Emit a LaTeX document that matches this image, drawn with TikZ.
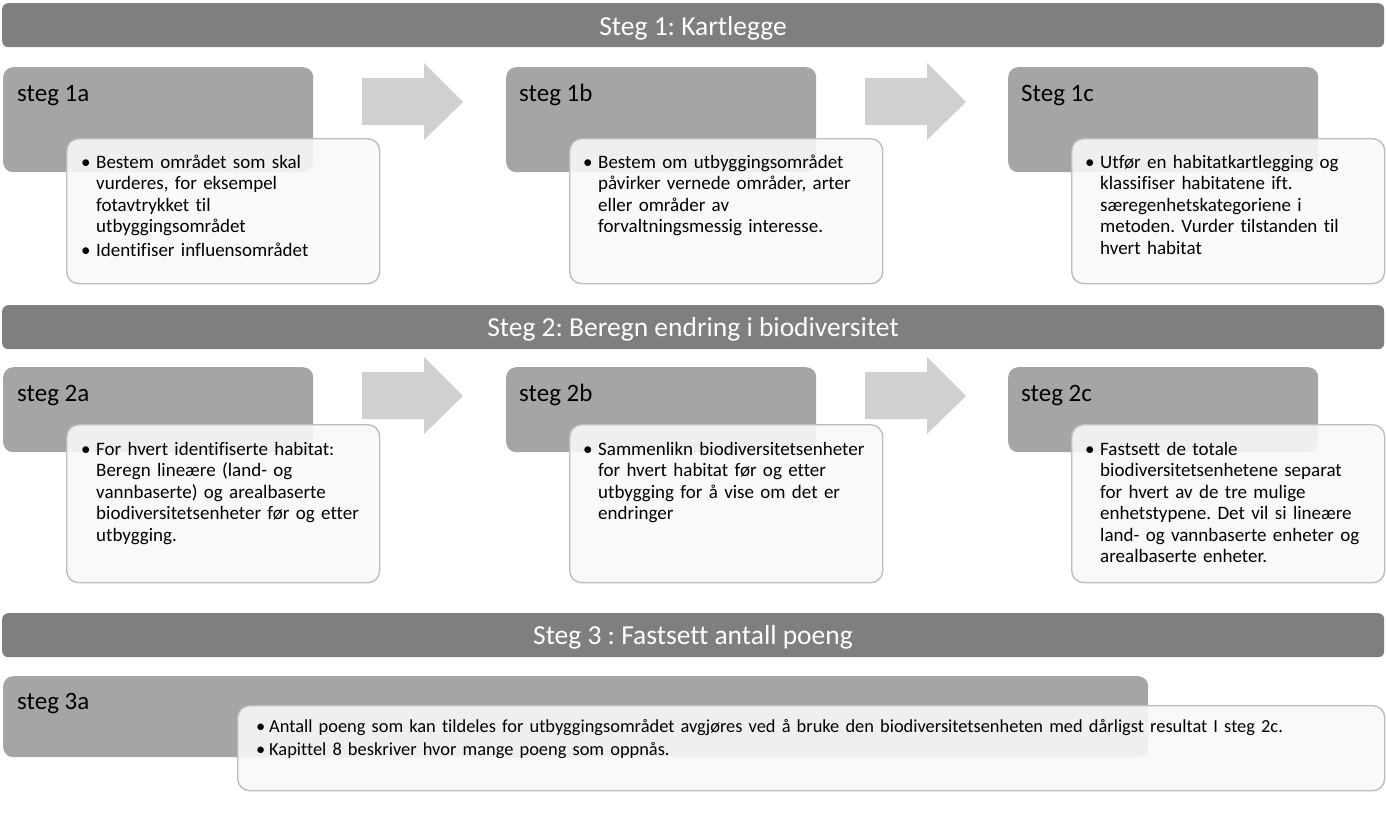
\documentclass[tikz,border=0pt]{standalone}
\usepackage{fontspec}
\setmainfont{Carlito}[Ligatures={NoCommon,NoContextual}]
\definecolor{hdrgray}{HTML}{7F7F7F}
\definecolor{boxgray}{HTML}{A5A5A5}
\definecolor{arrgray}{HTML}{D0D0D0}
\definecolor{bordergray}{HTML}{BDBDBD}
\definecolor{wfill}{HTML}{F8F8F8}
\newcommand{\bl}{\makebox[15pt][l]{\textbullet}}
\newcommand{\ind}{\hspace*{15pt}}
\newcommand{\blsm}{\makebox[13pt][l]{\textbullet}}
\frenchspacing
\begin{document}
\begin{tikzpicture}[x=1pt,y=-1pt,
  hdr/.style={fill=hdrgray, draw=none, rounded corners=6pt, anchor=north west, inner sep=0pt},
  hdrtext/.style={text=white, font=\fontsize{27.5}{31}\selectfont, anchor=base, inner sep=0pt},
  gbox/.style={fill=boxgray, draw=none, rounded corners=10pt, anchor=north west, inner sep=0pt},
  wbox/.style={fill=wfill, fill opacity=0.9, draw=bordergray, line width=1.4pt, rounded corners=12pt, anchor=north west, inner sep=0pt},
  lbl/.style={font=\fontsize{25}{29}\selectfont, anchor=base west, inner sep=0pt},
  body/.style={font=\fontsize{19}{21.5}\selectfont, anchor=base west, inner sep=0pt, align=left, text width=340pt},
  bodysm/.style={font=\fontsize{18.4}{23}\selectfont, anchor=base west, inner sep=0pt, align=left, text width=1120pt},
  barrow/.style={fill=arrgray, draw=none}
]
\useasboundingbox (0,0) rectangle (1386,819);

% Headers
\node[hdr, minimum width=1382pt, minimum height=44pt] (h1) at (2,3) {};
\node[hdrtext] (h1t) at (693,35) {Steg 1: Kartlegge};
\node[hdr, minimum width=1382pt, minimum height=44pt] (h2) at (2,305) {};
\node[hdrtext] (h2t) at (693,336) {Steg 2: Beregn endring i biodiversitet};
\node[hdr, minimum width=1382pt, minimum height=44pt] (h3) at (2,613) {};
\node[hdrtext] (h3t) at (693,644) {Steg 3 : Fastsett antall poeng};

% Arrows
\foreach \ax/\ay in {362/0, 865/0, 362/294, 865/294} {
  \fill[barrow] (\ax,78+\ay) -- (\ax+62,78+\ay) -- (\ax+62,63+\ay) -- (\ax+101,102+\ay)
     -- (\ax+62,140+\ay) -- (\ax+62,125+\ay) -- (\ax,125+\ay) -- cycle;
}

% Row 1
\node[gbox, minimum width=310pt, minimum height=105pt] (g1a) at (3,67) {};
\node[gbox, minimum width=310pt, minimum height=105pt] (g1b) at (506,67) {};
\node[gbox, minimum width=310pt, minimum height=105pt] (g1c) at (1008,67) {};
\node[lbl] (l1a) at (17,101) {steg 1a};
\node[lbl] (l1b) at (519,101) {steg 1b};
\node[lbl] (l1c) at (1021,101) {Steg 1c};
\node[wbox, minimum width=313pt, minimum height=145pt] (w1a) at (66,138) {};
\node[wbox, minimum width=313pt, minimum height=145pt] (w1b) at (569,138) {};
\node[wbox, minimum width=313pt, minimum height=145pt] (w1c) at (1071,138) {};
\node[body] (b1a) at (81,168) {\bl Bestem området som skal\\\ind vurderes, for eksempel\\\ind fotavtrykket til\\\ind utbyggingsområdet\\[2.5pt]\bl Identifiser influensområdet};
\node[body] (b1b) at (583,168) {\bl Bestem om utbyggingsområdet\\\ind påvirker vernede områder, arter\\\ind eller områder av\\\ind forvaltningsmessig interesse.};
\node[body] (b1c) at (1085,168) {\bl Utfør en habitatkartlegging og\\\ind klassifiser habitatene ift.\\\ind særegenhetskategoriene i\\\ind metoden. Vurder tilstanden til\\\ind hvert habitat};

% Row 2
\node[gbox, minimum width=310pt, minimum height=85pt] (g2a) at (3,367) {};
\node[gbox, minimum width=310pt, minimum height=85pt] (g2b) at (506,367) {};
\node[gbox, minimum width=310pt, minimum height=85pt] (g2c) at (1008,367) {};
\node[lbl] (l2a) at (17,401) {steg 2a};
\node[lbl] (l2b) at (519,401) {steg 2b};
\node[lbl] (l2c) at (1021,401) {steg 2c};
\node[wbox, minimum width=313pt, minimum height=158pt] (w2a) at (66,424) {};
\node[wbox, minimum width=313pt, minimum height=158pt] (w2b) at (569,424) {};
\node[wbox, minimum width=313pt, minimum height=158pt] (w2c) at (1071,424) {};
\node[body] (b2a) at (81,455) {\bl For hvert identifiserte habitat:\\\ind Beregn lineære (land- og\\\ind vannbaserte) og arealbaserte\\\ind biodiversitetsenheter før og etter\\\ind utbygging.};
\node[body] (b2b) at (583,455) {\bl Sammenlikn biodiversitetsenheter\\\ind for hvert habitat før og etter\\\ind utbygging for å vise om det er\\\ind endringer};
\node[body] (b2c) at (1085,455) {\bl Fastsett de totale\\\ind biodiversitetsenhetene separat\\\ind for hvert av de tre mulige\\\ind enhetstypene. Det vil si lineære\\\ind land- og vannbaserte enheter og\\\ind arealbaserte enheter.};

% Row 3
\node[gbox, minimum width=1145pt, minimum height=81pt] (g3a) at (3,676) {};
\node[lbl] (l3a) at (17,709) {steg 3a};
\node[wbox, minimum width=1147pt, minimum height=85pt] (w3a) at (237,705) {};
\node[bodysm] (b3a) at (256,732) {\blsm Antall poeng som kan tildeles for utbyggingsområdet avgjøres ved å bruke den biodiversitetsenheten med dårligst resultat I steg 2c.\\\blsm Kapittel 8 beskriver hvor mange poeng som oppnås.};
\end{tikzpicture}
\end{document}
